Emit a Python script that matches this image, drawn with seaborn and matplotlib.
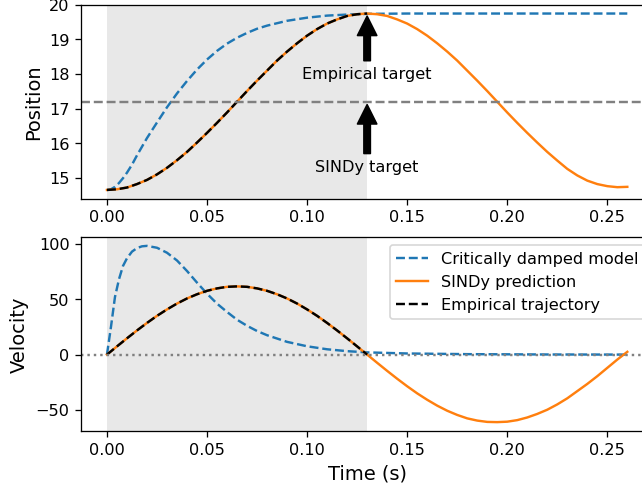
import numpy as np
import pandas as pd
import matplotlib
matplotlib.use("Agg")
import matplotlib.pyplot as plt
import seaborn as sns

# critically damped model
cd_t = [0.0, 0.002, 0.004, 0.006, 0.008, 0.01, 0.0125, 0.015, 0.0175, 0.02,
        0.025, 0.03, 0.035, 0.04, 0.045, 0.05, 0.055, 0.06, 0.065, 0.07,
        0.075, 0.08, 0.09, 0.10, 0.11, 0.12, 0.13, 0.15, 0.18, 0.22, 0.26]
cd_pos = [14.65, 14.67, 14.74, 14.85, 14.99, 15.15, 15.38, 15.65, 15.90, 16.15,
          16.60, 17.04, 17.44, 17.80, 18.13, 18.42, 18.67, 18.88, 19.05, 19.19,
          19.31, 19.40, 19.54, 19.63, 19.69, 19.72, 19.74, 19.75, 19.75, 19.75, 19.75]
cd_vel = [0.0, 25.0, 52.0, 68.0, 80.0, 87.0, 93.0, 96.2, 97.8, 98.2,
          96.5, 92.0, 85.0, 75.5, 65.0, 55.0, 46.0, 38.5, 31.5, 26.0,
          21.3, 17.5, 11.5, 7.5, 4.8, 3.1, 2.0, 1.0, 0.4, 0.1, 0.0]

# SINDy prediction
sindy_t = [0.0, 0.005, 0.01, 0.015, 0.02, 0.025, 0.03, 0.035, 0.04, 0.045,
           0.05, 0.055, 0.06, 0.065, 0.07, 0.075, 0.08, 0.085, 0.09, 0.095,
           0.10, 0.105, 0.11, 0.115, 0.12, 0.125, 0.13, 0.135, 0.14, 0.145,
           0.15, 0.155, 0.16, 0.165, 0.17, 0.175, 0.18, 0.185, 0.19, 0.195,
           0.20, 0.205, 0.21, 0.215, 0.22, 0.225, 0.23, 0.235, 0.24, 0.245,
           0.25, 0.255, 0.26]
sindy_pos = [14.65, 14.67, 14.72, 14.82, 14.94, 15.10, 15.29, 15.51, 15.75, 16.02,
             16.30, 16.59, 16.89, 17.20, 17.51, 17.81, 18.10, 18.39, 18.65, 18.89,
             19.11, 19.30, 19.46, 19.58, 19.68, 19.73, 19.75, 19.73, 19.68, 19.58,
             19.46, 19.30, 19.11, 18.89, 18.65, 18.39, 18.10, 17.81, 17.51, 17.20,
             16.89, 16.59, 16.30, 16.02, 15.75, 15.50, 15.26, 15.07, 14.92, 14.82,
             14.76, 14.73, 14.74]
sindy_vel = [0.0, 7.4, 14.7, 21.8, 28.6, 35.0, 40.8, 46.1, 50.7, 54.5,
             57.6, 59.8, 61.2, 61.6, 61.2, 59.8, 57.6, 54.5, 50.7, 46.1,
             40.8, 35.0, 28.6, 21.8, 14.7, 7.4, 0.0, -7.4, -14.7, -21.8,
             -28.6, -35.0, -40.8, -46.1, -50.7, -54.5, -57.6, -59.6, -60.8, -61.0,
             -60.6, -59.2, -56.8, -53.6, -49.8, -45.0, -39.5, -33.0, -26.5, -19.5,
             -12.0, -4.5, 2.5]

# empirical trajectory
emp_t = [0.0, 0.005, 0.01, 0.015, 0.02, 0.025, 0.03, 0.035, 0.04, 0.045,
         0.05, 0.055, 0.06, 0.065, 0.07, 0.075, 0.08, 0.085, 0.09, 0.095,
         0.10, 0.105, 0.11, 0.115, 0.12, 0.125, 0.13]
emp_pos = [14.65, 14.67, 14.72, 14.82, 14.94, 15.10, 15.29, 15.51, 15.75, 16.02,
           16.30, 16.59, 16.89, 17.20, 17.51, 17.81, 18.10, 18.39, 18.65, 18.89,
           19.11, 19.30, 19.46, 19.58, 19.68, 19.73, 19.75]
emp_vel = [0.0, 7.4, 14.7, 21.8, 28.6, 35.0, 40.8, 46.1, 50.7, 54.5,
           57.6, 59.8, 61.2, 61.6, 61.2, 59.8, 57.6, 54.5, 50.7, 46.1,
           40.8, 35.0, 28.6, 21.8, 14.7, 7.4, 0.0]

t_end = 0.13
empirical_target = 19.75
sindy_target = 17.2

dpi = 116
fig = plt.figure(figsize=(642.4 / dpi, 486.4 / dpi), dpi=dpi)
ax1 = fig.add_axes([0.126, 0.5905, 0.891, 0.399])
ax2 = fig.add_axes([0.126, 0.1132, 0.891, 0.3986])

for ax in (ax1, ax2):
    ax.axvspan(0, t_end, color="#e8e8e8", lw=0)

# position
sns.lineplot(x=cd_t, y=cd_pos, ax=ax1, color="tab:blue", linestyle="--")
sns.lineplot(x=sindy_t, y=sindy_pos, ax=ax1, color="tab:orange")
sns.lineplot(x=emp_t, y=emp_pos, ax=ax1, color="black", linestyle="--")
ax1.axhline(sindy_target, color="gray", linestyle="--")
ax1.annotate("Empirical target", xy=(t_end, empirical_target), xytext=(t_end, 18.0),
             ha="center", va="center", arrowprops=dict(facecolor="black", shrink=0.05))
ax1.annotate("SINDy target", xy=(t_end, sindy_target), xytext=(t_end, 15.31),
             ha="center", va="center", arrowprops=dict(facecolor="black", shrink=0.05))
ax1.set_ylabel("Position", fontsize=12)

# velocity
sns.lineplot(x=cd_t, y=cd_vel, ax=ax2, color="tab:blue", linestyle="--",
             label="Critically damped model")
sns.lineplot(x=sindy_t, y=sindy_vel, ax=ax2, color="tab:orange", label="SINDy prediction")
sns.lineplot(x=emp_t, y=emp_vel, ax=ax2, color="black", linestyle="--",
             label="Empirical trajectory")
ax2.axhline(0, color="gray", linestyle=":")
ax2.set_ylabel("Velocity", fontsize=12)
ax2.set_xlabel("Time (s)", fontsize=12)
ax2.legend(loc="upper right")

fig.savefig("out.png", dpi=dpi)
